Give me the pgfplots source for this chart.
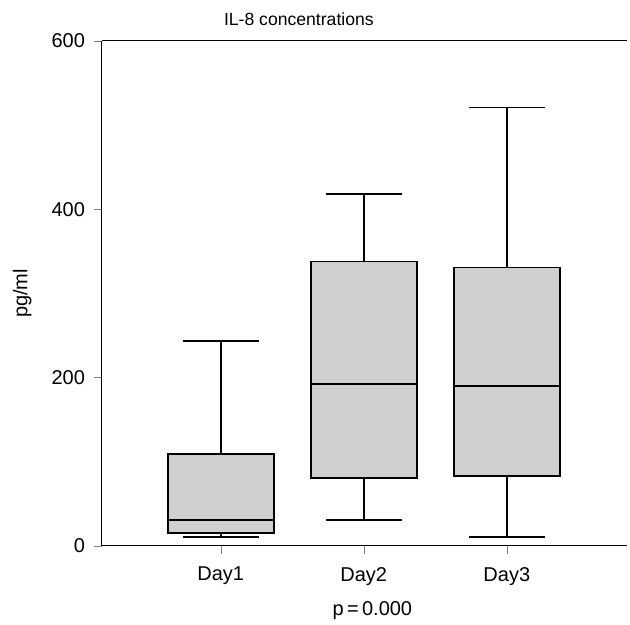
\documentclass[border=0pt]{standalone}
\usepackage{fontspec}
\setmainfont{Liberation Sans}
\usepackage{pgfplots}
\pgfplotsset{compat=1.18}
\usepgfplotslibrary{statistics}
\begin{document}
\begin{tikzpicture}
\begin{axis}[
  name=ax,
  scale only axis,
  width=262.5pt, height=252.5pt,
  xmin=0.17, xmax=3.84,
  ymin=0, ymax=600,
  axis y line*=left,
  axis x line*=box,
  xtick pos=bottom,
  ytick pos=left,
  tick align=outside,
  major tick length=4pt,
  axis line style={line width=0.5pt},
  xtick={1,2,3},
  xticklabels={Day1,Day2,Day3},
  ytick={0,200,400,600},
  minor tick num=0,
  /pgf/number format/assume math mode=true,
  tick label style={font=\fontsize{10}{12}\selectfont},
  yticklabel style={xshift=-1pt},
  xticklabel style={yshift=-3pt},
  ylabel={pg/ml},
  ylabel style={font=\fontsize{10}{12}\selectfont, at={(rel axis cs:-0.152,0.5)}, anchor=center},
  xlabel={p\,=\,0.000},
  xlabel style={font=\fontsize{10}{12}\selectfont, at={(rel axis cs:0.515,-0.127)}, anchor=center},
  title={IL-8 concentrations},
  title style={font=\fontsize{8.8}{11}\selectfont, at={(rel axis cs:0.375,1)}, anchor=base, yshift=2pt},
  boxplot/draw direction=y,
]
\addplot+[boxplot prepared={draw position=1, lower whisker=11, lower quartile=15, median=31, upper quartile=109, upper whisker=244, box extend=0.74, whisker extend=0.53},
  draw=black, line width=0.9pt, fill=gray!38, solid, mark=none] coordinates {};
\addplot+[boxplot prepared={draw position=2, lower whisker=31, lower quartile=80.5, median=192, upper quartile=338, upper whisker=418, box extend=0.74, whisker extend=0.53},
  draw=black, line width=0.9pt, fill=gray!38, solid, mark=none] coordinates {};
\addplot+[boxplot prepared={draw position=3, lower whisker=11, lower quartile=83, median=190, upper quartile=331, upper whisker=521, box extend=0.74, whisker extend=0.53},
  draw=black, line width=0.9pt, fill=gray!38, solid, mark=none] coordinates {};
\end{axis}
\pgfresetboundingbox
\path (ax.south west) ++(-51pt,-39.5pt) rectangle ([xshift=1.5pt,yshift=20.5pt]ax.north east);
\end{tikzpicture}
\end{document}
